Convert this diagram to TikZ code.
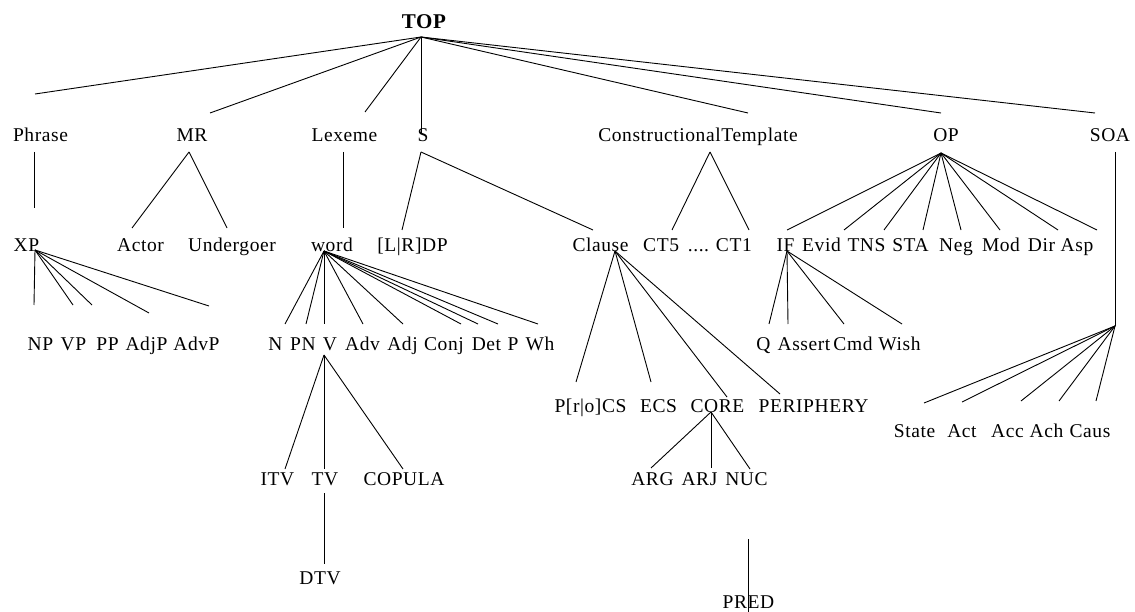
\documentclass[tikz,border=0pt]{standalone}
\usepackage{fontspec}
\setmainfont{Liberation Serif}[LetterSpace=3]

\begin{document}
\begin{tikzpicture}[x=1pt,y=-1pt,line width=0.9pt,
    every node/.style={inner sep=0pt,anchor=base,
      font=\fontsize{19.5}{22}\selectfont},
    root/.style={font=\fontsize{21}{24}\selectfont\bfseries}]
  \useasboundingbox (0,0) rectangle (1135,612);

  % labels, one row at a time (x = middle of the word, y = base line)
  \node[root] (top) at (424,29) {TOP};

  \node (phrase) at (40.5,142) {Phrase};
  \node (mr) at (192,142) {MR};
  \node (lexeme) at (344.5,142) {Lexeme};
  \node (s) at (423,142) {S};
  \node (ct) at (698,142) {ConstructionalTemplate};
  \node (op) at (946,142) {OP};
  \node (soa) at (1110,142) {SOA};

  \node (xp) at (26.5,252) {XP};
  \node (actor) at (140.5,252) {Actor};
  \node (undergoer) at (232,252) {Undergoer};
  \node (word) at (332,252) {word};
  \node (dp) at (412.5,252) {[L|R]DP};
  \node (clause) at (600.5,252) {Clause};
  \node (cts) at (697.5,252) {CT5\hspace{.45em}....\hspace{.35em}CT1};
  \node (if) at (785.5,252) {IF};
  \node (evid) at (821.5,252) {Evid};
  \node (tns) at (866.5,252) {TNS};
  \node (sta) at (910.5,252) {STA};
  \node (neg) at (956,252) {Neg};
  \node (mod) at (1001,252) {Mod};
  \node (dir) at (1041.5,252) {Dir};
  \node (asp) at (1077,252) {Asp};

  \node (np) at (40.5,350) {NP};
  \node (vp) at (73.5,350) {VP};
  \node (pp) at (107.5,350) {PP};
  \node (adjp) at (146.5,350) {AdjP};
  \node (advp) at (196.5,350) {AdvP};
  \node (n) at (275.5,350) {N};
  \node (pn) at (303,350) {PN};
  \node (v) at (330,350) {V};
  \node (adv) at (362.5,350) {Adv};
  \node (adj) at (402.5,350) {Adj};
  \node (conj) at (444,350) {Conj};
  \node (det) at (486.5,350) {Det};
  \node (p) at (513,350) {P};
  \node (wh) at (540,350) {Wh};
  \node (q) at (763.5,350) {Q};
  \node (assert) at (804,350) {Assert};
  \node (cmd) at (853,350) {Cmd};
  \node (wish) at (899.5,350) {Wish};

  \node (procs) at (590.5,412) {P[r|o]CS};
  \node (ecs) at (658.5,412) {ECS};
  \node (core) at (717.5,412) {CORE};
  \node (periphery) at (813.5,412) {PERIPHERY};

  \node (state) at (914.5,437) {State};
  \node (act) at (962,437) {Act};
  \node (acc) at (1007.5,437) {Acc};
  \node (ach) at (1046.5,437) {Ach};
  \node (caus) at (1090,437) {Caus};

  \node (itv) at (277.5,485) {ITV};
  \node (tv) at (325,485) {TV};
  \node (copula) at (404,485) {COPULA};
  \node (arg) at (652.5,485) {ARG};
  \node (arj) at (699.5,485) {ARJ};
  \node (nuc) at (746.5,485) {NUC};

  \node (dtv) at (320,584) {DTV};
  \node (pred) at (748.5,608) {PRED};

  % branches: a hub point and the loose ends it fans out to
  \coordinate (tophub) at (421,37);
  \foreach \n/\x/\y in {phrase/35/94, mr/210/113, lexeme/365/112, s/421/133,
                        ct/748/113, op/941/113, soa/1095/113}
    {\coordinate (top-\n) at (\x,\y); \draw (tophub) -- (top-\n);}

  \coordinate (phrase-a) at (34,152);
  \coordinate (phrase-b) at (34,208);
  \draw (phrase-a) -- (phrase-b);

  \coordinate (mrhub) at (189,152);
  \foreach \n/\x/\y in {actor/132/228, undergoer/227/228}
    {\coordinate (mr-\n) at (\x,\y); \draw (mrhub) -- (mr-\n);}

  \coordinate (lexeme-a) at (343,152);
  \coordinate (lexeme-b) at (343,228);
  \draw (lexeme-a) -- (lexeme-b);

  \coordinate (shub) at (421,152);
  \foreach \n/\x/\y in {dp/402/230, clause/593/230}
    {\coordinate (s-\n) at (\x,\y); \draw (shub) -- (s-\n);}

  \coordinate (cthub) at (710,152);
  \foreach \n/\x/\y in {ct5/672/230, ct1/749/230}
    {\coordinate (ct-\n) at (\x,\y); \draw (cthub) -- (ct-\n);}

  \coordinate (ophub) at (941,153);
  \foreach \x [count=\i] in {787,844,884,923,961,1000,1058,1097}
    {\coordinate (op-\i) at (\x,230); \draw (ophub) -- (op-\i);}

  \coordinate (soa-a) at (1115,152);
  \coordinate (soahub) at (1115,326);
  \draw (soa-a) -- (soahub);

  \coordinate (xphub) at (35,250);
  \foreach \x/\y [count=\i] in {34/305, 73/305, 92/305, 149/313, 209/306}
    {\coordinate (xp-\i) at (\x,\y); \draw (xphub) -- (xp-\i);}

  \coordinate (wordhub) at (324,251);
  \foreach \x [count=\i] in {285,306,324,363,403,461,478,498,538}
    {\coordinate (word-\i) at (\x,324); \draw (wordhub) -- (word-\i);}

  \coordinate (clausehub) at (615,251);
  \foreach \x/\y [count=\i] in {576/382, 651/382, 727/397, 780/394}
    {\coordinate (clause-\i) at (\x,\y); \draw (clausehub) -- (clause-\i);}

  \coordinate (ifhub) at (787,251);
  \foreach \x [count=\i] in {769,788,844,902}
    {\coordinate (if-\i) at (\x,324); \draw (ifhub) -- (if-\i);}

  \coordinate (vhub) at (324,355);
  \foreach \x/\y [count=\i] in {285/469, 324/469, 403/469}
    {\coordinate (v-\i) at (\x,\y); \draw (vhub) -- (v-\i);}

  \coordinate (tv-a) at (324,493);
  \coordinate (tv-b) at (324,564);
  \draw (tv-a) -- (tv-b);

  \coordinate (corehub) at (711,412);
  \foreach \x/\y [count=\i] in {651/468, 711/468, 750/469}
    {\coordinate (core-\i) at (\x,\y); \draw (corehub) -- (core-\i);}

  \foreach \x/\y [count=\i] in {924/403, 962/402, 1021/401, 1059/401, 1096/401}
    {\coordinate (soa-\i) at (\x,\y); \draw (soahub) -- (soa-\i);}

  \coordinate (nuc-a) at (748,539);
  \coordinate (nuc-b) at (748,612);
  \draw (nuc-a) -- (nuc-b);
\end{tikzpicture}
\end{document}
